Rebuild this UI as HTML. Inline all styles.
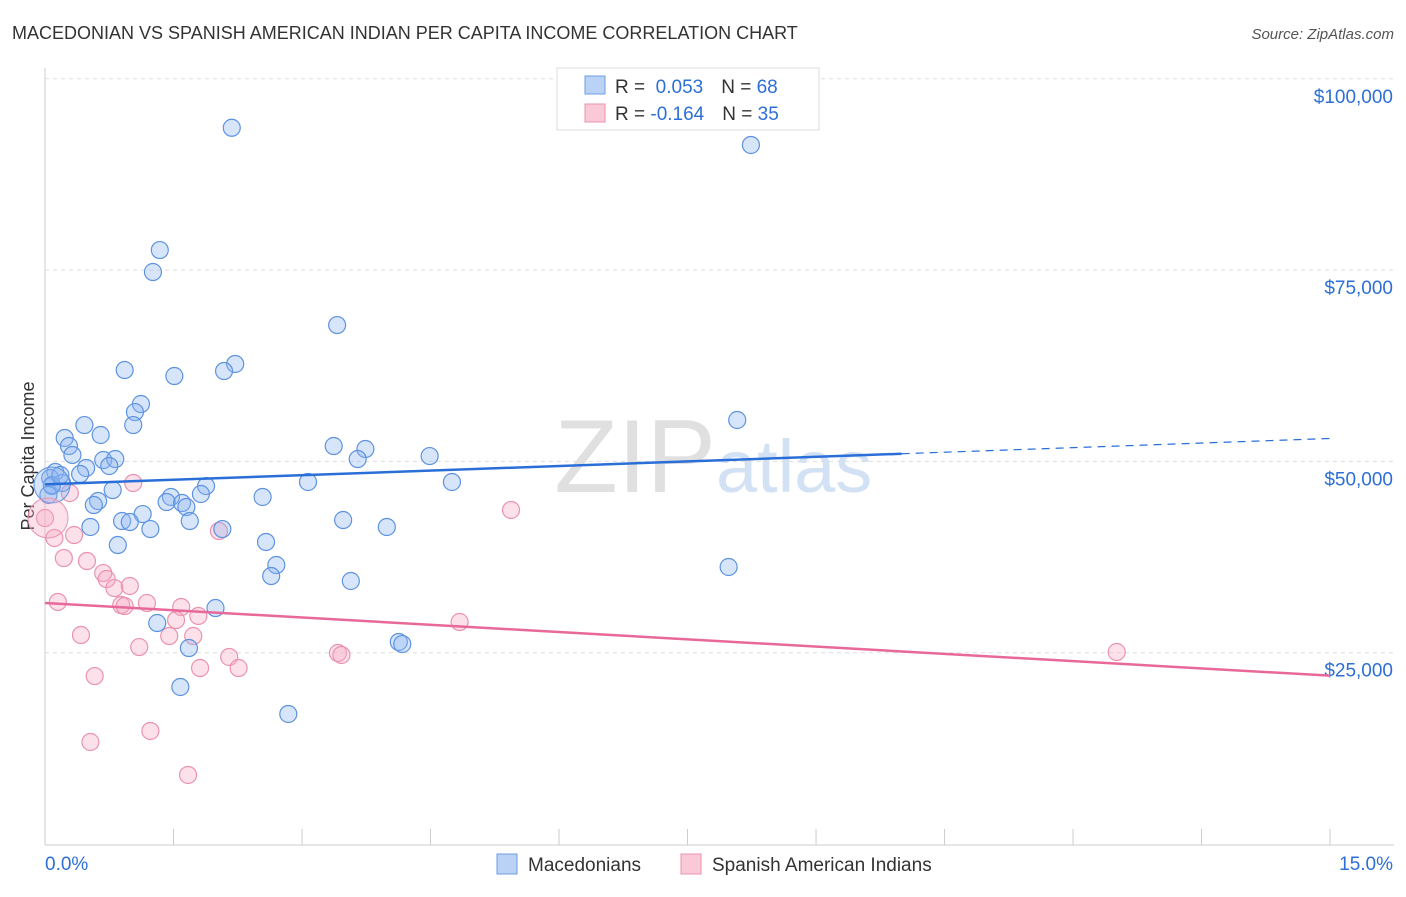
<!DOCTYPE html>
<html><head><meta charset="utf-8"><style>
body{margin:0;background:#fff;font-family:"Liberation Sans",sans-serif;}
svg text{font-family:"Liberation Sans",sans-serif;}
</style></head><body>
<svg id="chart" width="1406" height="892">
<text x="12" y="39" font-size="18" fill="#333">MACEDONIAN VS SPANISH AMERICAN INDIAN PER CAPITA INCOME CORRELATION CHART</text>
<text x="1394" y="39" font-size="15" fill="#555" font-style="italic" text-anchor="end">Source: ZipAtlas.com</text>
<text x="34" y="456" font-size="18" fill="#333" transform="rotate(-90 34 456)" text-anchor="middle">Per Capita Income</text>
<text x="716" y="492" font-size="104" fill="#e0e0e0" font-family="Liberation Serif" text-anchor="end">ZIP</text>
<text x="716" y="492" font-size="74" fill="#d3e1f5">atlas</text>
<g id="grid"></g><g id="marks"></g>
<g>
<rect x="557" y="68" width="262" height="62" fill="#fff" stroke="#ddd"/>
<rect x="585" y="76" width="20" height="18" fill="#b9d2f5" stroke="#6e9fe0"/>
<rect x="585" y="104" width="20" height="18" fill="#f9c9d7" stroke="#ea93ae"/>
<text x="615" y="93" font-size="19" fill="#333">R = <tspan fill="#2d6fd6">&#160;0.053</tspan><tspan dx="18">N = </tspan><tspan fill="#2d6fd6">68</tspan></text>
<text x="615" y="120" font-size="19" fill="#333">R = <tspan fill="#2d6fd6">-0.164</tspan><tspan dx="18">N = </tspan><tspan fill="#2d6fd6">35</tspan></text>
</g>
<g>
<rect x="497" y="854" width="20" height="20" fill="#b9d2f5" stroke="#6e9fe0"/>
<text x="528" y="871" font-size="19" fill="#333">Macedonians</text>
<rect x="681" y="854" width="20" height="20" fill="#f9c9d7" stroke="#ea93ae"/>
<text x="712" y="871" font-size="19" fill="#333">Spanish American Indians</text>
</g>
</svg>
<script>
const yTicks=[25000,50000,75000,100000];
const xTickLabels=["0.0%","15.0%"];
const blueX=[2.18,8.24,1.34,1.26,3.41,2.22,0.93,2.09,1.51,1.12,1.05,8.08,0.46,1.03,0.65,0.23,0.28,3.37,3.74,0.32,3.65,4.49,0.68,0.82,0.75,0.48,0.41,0.12,0.06,0.08,0.2,3.07,4.75,1.88,0.79,1.82,1.47,2.54,0.62,0.57,1.42,1.6,1.65,1.14,3.48,0.9,0.99,1.69,0.53,1.23,2.07,3.99,2.58,0.85,2.7,7.98,2.64,3.57,1.99,1.31,1.68,4.13,4.17,1.58,2.84,0.08,0.04,0.18];
const blueY=[93600,91350,77620,74750,67820,62730,61940,61810,61160,57500,56450,55410,54750,54750,53450,53060,52010,52010,51620,50840,50310,50700,50180,50310,49400,49140,48350,48610,47830,46780,47180,47310,47310,46780,46260,45740,45350,45350,44820,44300,44690,44560,44040,43120,42340,42210,42080,42210,41430,41160,41160,41430,39470,39070,36460,36200,35020,34370,30840,28880,25610,26400,26140,20520,16990,46910,45610,48220];
const pinkX=[0.0,0.29,1.03,5.44,0.11,0.34,0.22,0.49,0.68,0.72,0.81,0.99,0.15,0.89,0.93,1.19,1.59,1.79,1.53,0.42,1.45,1.73,4.84,1.1,3.42,3.46,12.51,2.15,2.26,1.81,0.58,1.23,0.53,1.67,2.03];
const pinkY=[42600,45870,47180,43650,39990,40380,37370,36980,35410,34630,33450,33720,31630,31230,31100,31490,30970,29800,29270,27310,27180,27180,29010,25740,24960,24700,25090,24440,23000,23000,21950,14770,13330,9020,40900];
const blueTrend=[47000,51000,53000]; // at x=0, 10, 15
const pinkTrend=[31500,22000]; // at x=0, 15
const NS="http://www.w3.org/2000/svg";
const X=p=>45+p*85.67, Y=v=>844-v*0.007652;
function mk(tag,attrs,parent){const e=document.createElementNS(NS,tag);for(const k in attrs)e.setAttribute(k,attrs[k]);parent.appendChild(e);return e;}
const grid=document.getElementById('grid'),marks=document.getElementById('marks');
mk('line',{x1:45,y1:68,x2:45,y2:845,stroke:'#ccc'},grid);
mk('line',{x1:45,y1:845,x2:1394,y2:845,stroke:'#ccc'},grid);
for(let i=0;i<=10;i++){const t=mk('line',{x1:X(i*1.5),y1:829,x2:X(i*1.5),y2:845,stroke:'#ccc'},grid);

}
yTicks.forEach(v=>{const l=mk('line',{x1:45,y1:Y(v),x2:1394,y2:Y(v),stroke:'#ddd','stroke-dasharray':'4 4'},grid);


const t=mk('text',{x:1393,y:Y(v)+24,'font-size':19,fill:'#2d6fd6','text-anchor':'end'},grid);t.textContent='$'+v.toLocaleString('en-US');

});
const xl0=mk('text',{x:45,y:870,'font-size':19,fill:'#2d6fd6'},grid);xl0.textContent=xTickLabels[0];


const xl1=mk('text',{x:1393,y:870,'font-size':19,fill:'#2d6fd6','text-anchor':'end'},grid);xl1.textContent=xTickLabels[1];


function pts(xs,ys,fill,stroke,name){xs.forEach((x,i)=>{const c=mk('circle',{cx:X(x),cy:Y(ys[i]),r:8.5,fill:fill,stroke:stroke,'stroke-width':1.2},marks);

});}
pts(pinkX,pinkY,'rgba(246,170,195,0.35)','#ea93ae','point-spanish-american-indian');
pts(blueX,blueY,'rgba(140,180,240,0.35)','#5d93e0','point-macedonian');
const big1=mk('circle',{cx:52,cy:485,r:18,fill:'rgba(140,180,240,0.35)',stroke:'#5d93e0'},marks);


const big2=mk('circle',{cx:48,cy:518,r:20,fill:'rgba(246,170,195,0.35)',stroke:'#ea93ae'},marks);


const bt=mk('line',{x1:X(0),y1:Y(blueTrend[0]),x2:X(10),y2:Y(blueTrend[1]),stroke:'#2a6fd8','stroke-width':2.5},marks);


const bd=mk('line',{x1:X(10),y1:Y(blueTrend[1]),x2:X(15),y2:Y(blueTrend[2]),stroke:'#2a6fd8','stroke-width':1.2,'stroke-dasharray':'8 6'},marks);


const pt=mk('line',{x1:X(0),y1:Y(pinkTrend[0]),x2:X(15),y2:Y(pinkTrend[1]),stroke:'#e8689a','stroke-width':2.5},marks);


</script>
</body></html>
